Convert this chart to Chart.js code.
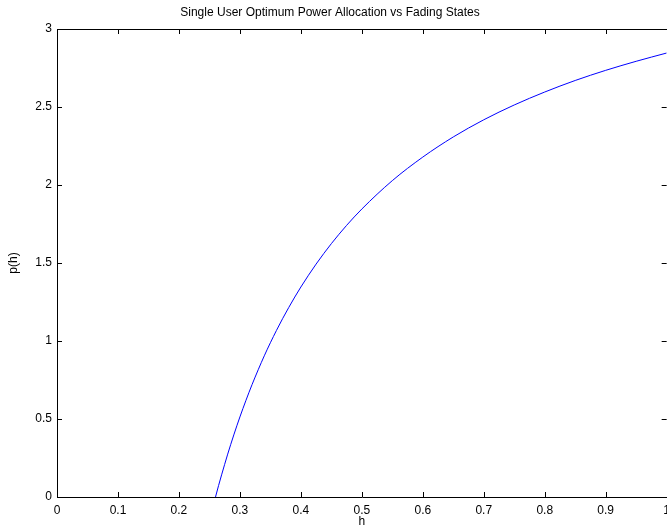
<!DOCTYPE html>
<html>
<head>
<meta charset="utf-8">
<script src="https://cdn.jsdelivr.net/npm/chart.js@4/dist/chart.umd.min.js"></script>
<style>
  html, body { margin: 0; padding: 0; background: #fff; overflow: hidden; }
  #wrap { position: relative; width: 676px; height: 530px; }
</style>
</head>
<body>
<div id="wrap"><canvas id="c" width="676" height="530"></canvas></div>
<script>
// Fading state h and the optimum power p(h) allocated to it
const fadingStates = [0.260, 0.265, 0.270, 0.280, 0.290, 0.300, 0.310, 0.320, 0.340, 0.360,
                      0.380, 0.400, 0.425, 0.450, 0.475, 0.500, 0.550, 0.600, 0.650, 0.700,
                      0.750, 0.800, 0.850, 0.900, 0.950, 1.000];
const powerValues  = [0.000, 0.073, 0.142, 0.275, 0.398, 0.513, 0.620, 0.721, 0.905, 1.068,
                      1.214, 1.346, 1.493, 1.624, 1.741, 1.846, 2.028, 2.179, 2.308, 2.418,
                      2.513, 2.596, 2.670, 2.735, 2.793, 2.846];

const xTickLabels = ['0', '0.1', '0.2', '0.3', '0.4', '0.5', '0.6', '0.7', '0.8', '0.9', '1'];
const yTickLabels = ['0', '0.5', '1', '1.5', '2', '2.5', '3'];

const FONT = '"Liberation Sans", Arial, Helvetica, sans-serif';
Chart.defaults.color = '#000';
Chart.defaults.font.family = FONT;
Chart.defaults.font.size = 12;

// Axes box with tick marks pointing inward on all four sides
const boxAxes = {
  id: 'boxAxes',
  afterDatasetsDraw(chart) {
    const { ctx, chartArea: a, scales: { x, y } } = chart;
    const L = 5;
    ctx.save();
    ctx.strokeStyle = '#000';
    ctx.lineWidth = 1;
    ctx.beginPath();
    x.ticks.forEach(t => {
      const px = Math.round(x.getPixelForValue(t.value)) + 0.5;
      ctx.moveTo(px, a.bottom); ctx.lineTo(px, a.bottom - L);
      ctx.moveTo(px, a.top); ctx.lineTo(px, a.top + L);
    });
    y.ticks.forEach(t => {
      const py = Math.round(y.getPixelForValue(t.value)) + 0.5;
      ctx.moveTo(a.left, py); ctx.lineTo(a.left + L, py);
      ctx.moveTo(a.right, py); ctx.lineTo(a.right - L, py);
    });
    ctx.stroke();
    ctx.beginPath();
    ctx.rect(Math.round(a.left) + 0.5, Math.round(a.top) + 0.5,
             Math.round(a.right - a.left), Math.round(a.bottom - a.top));
    ctx.stroke();
    ctx.restore();
  }
};

new Chart(document.getElementById('c'), {
  type: 'line',
  data: {
    datasets: [{
      data: fadingStates.map((h, i) => ({ x: h, y: powerValues[i] })),
      borderColor: '#0000ff',
      borderWidth: 1,
      pointRadius: 0,
      fill: false,
      cubicInterpolationMode: 'monotone'
    }]
  },
  options: {
    responsive: false,
    animation: false,
    layout: { autoPadding: false, padding: { top: 0, right: 8, bottom: 0, left: -8 } },
    plugins: {
      legend: { display: false },
      tooltip: { enabled: false },
      title: {
        display: true,
        text: 'Single User Optimum Power Allocation vs Fading States',
        font: { size: 12, weight: 'normal', family: FONT },
        color: '#000',
        padding: { top: 5, bottom: 9.6 }
      }
    },
    scales: {
      x: {
        type: 'linear',
        min: 0, max: 1,
        grid: { display: false, drawTicks: false },
        border: { display: false },
        ticks: {
          stepSize: 0.1,
          padding: 6,
          maxRotation: 0,
          autoSkip: false,
          callback: (v, i) => xTickLabels[i]
        },
        title: { display: true, text: 'h', padding: { top: 0, bottom: 1 } },
        afterFit: s => { s.height = 33; }
      },
      y: {
        type: 'linear',
        min: 0, max: 3,
        grid: { display: false, drawTicks: false },
        border: { display: false },
        ticks: {
          stepSize: 0.5,
          padding: 5,
          autoSkip: false,
          callback: (v, i) => yTickLabels[i]
        },
        title: { display: true, text: 'p(h)', padding: { top: 14, bottom: 0 } },
        afterFit: s => { s.width = 65; }
      }
    }
  },
  plugins: [boxAxes]
});
</script>
</body>
</html>
